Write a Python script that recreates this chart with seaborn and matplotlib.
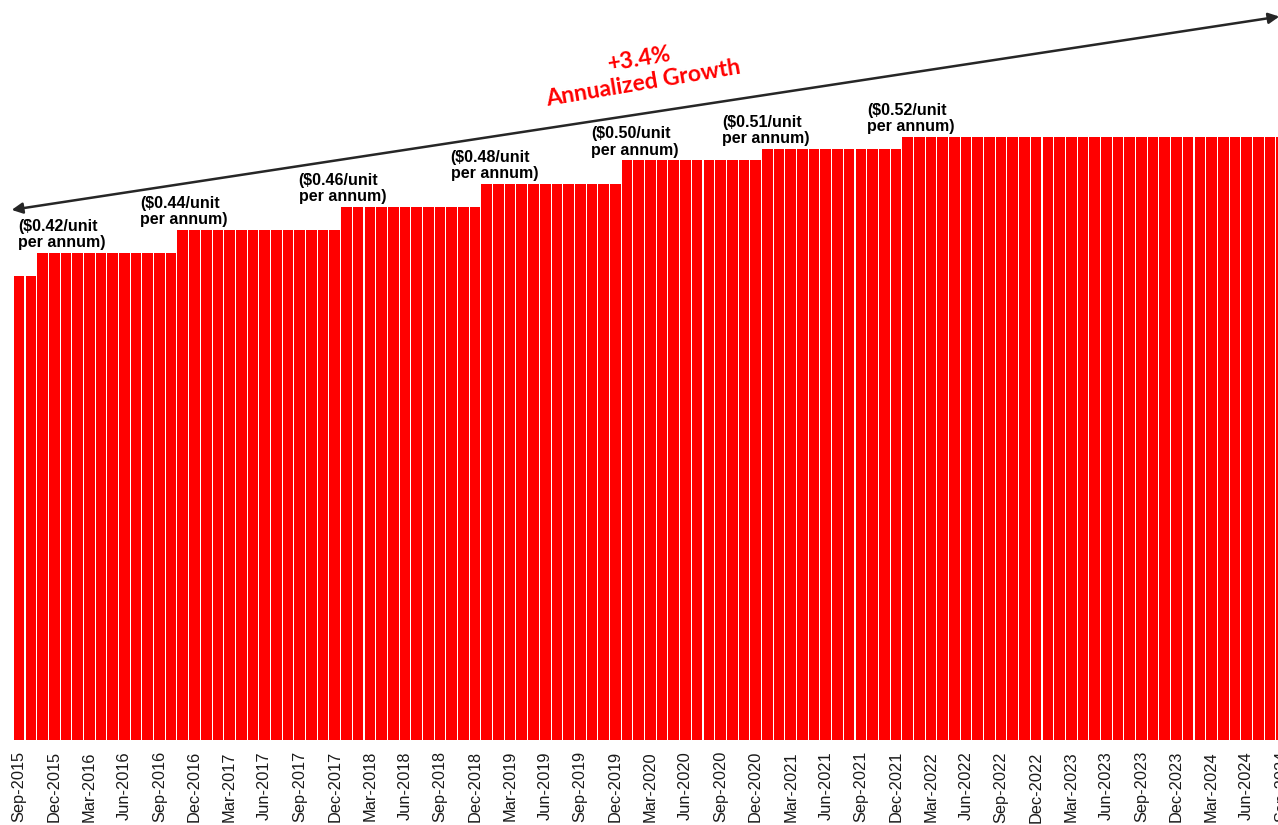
import matplotlib
matplotlib.use("Agg")
import matplotlib.pyplot as plt
import numpy as np
import pandas as pd
import seaborn as sns

# monthly distributions, Sep-2015 .. Sep-2024
first_month = "2015-09-01"
n_months = 109
annual_rate = [0.40, 0.42, 0.44, 0.46, 0.48, 0.50, 0.51, 0.52]
months_at_rate = [2, 12, 14, 12, 12, 12, 12, 33]

# step labels
label_rates = [0.42, 0.44, 0.46, 0.48, 0.50, 0.51, 0.52]
label_text = ["($%.2f/unit\nper annum)" % r for r in label_rates]
label_x = [-0.07, 10.36, 23.9, 36.9, 48.9, 60.15, 72.55]

growth_text = "+3.4%\nAnnualized Growth"


def main():
    months = pd.date_range(first_month, periods=n_months, freq="MS").strftime("%b-%Y")
    monthly = np.repeat(annual_rate, months_at_rate) / 12
    df = pd.DataFrame({"month": months, "dist": monthly})

    sns.set_style("white")
    plt.rcParams["font.family"] = ["Liberation Sans", "DejaVu Sans"]

    fig = plt.figure(figsize=(12.78, 8.25), dpi=100)
    ax = fig.add_axes([13.3 / 1278, 85 / 825, 109 * 11.69 / 1278, 740 / 825])

    sns.barplot(data=df, x="month", y="dist", color="#ff0000", width=0.91,
                linewidth=0, saturation=1, ax=ax)

    ax.set_xlim(-0.5, n_months - 0.5)
    ax.set_ylim(0, 0.0532)
    ax.set_xticks(range(0, n_months, 3))
    ax.set_xticklabels(months[::3], rotation=90, fontsize=11.8, color="#1a1a1a")
    ax.tick_params(axis="x", length=0, pad=8)
    ax.set_yticks([])
    ax.set_xlabel("")
    ax.set_ylabel("")
    for s in ax.spines.values():
        s.set_visible(False)

    for x, r, t in zip(label_x, label_rates, label_text):
        ax.annotate(t, xy=(x, r / 12), xytext=(0, 2), textcoords="offset points",
                    ha="left", va="bottom", fontsize=11.5, fontweight="bold",
                    color="black", linespacing=1.1)

    # growth arrow
    ax.annotate("", xy=(107.8, 0.05201), xytext=(-0.64, 0.03811),
                arrowprops=dict(arrowstyle="<|-|>", color="#262626", lw=1.8,
                                mutation_scale=16, shrinkA=0, shrinkB=0),
                annotation_clip=False)
    ax.text(53.2, 0.0481, growth_text, ha="center", va="center", rotation=9.5,
            rotation_mode="anchor", fontsize=16.5, fontweight="bold", color="#ff0000",
            family=["Lato", "DejaVu Sans"], linespacing=1.2)

    plt.savefig("out.png", dpi=100)


if __name__ == "__main__":
    main()
